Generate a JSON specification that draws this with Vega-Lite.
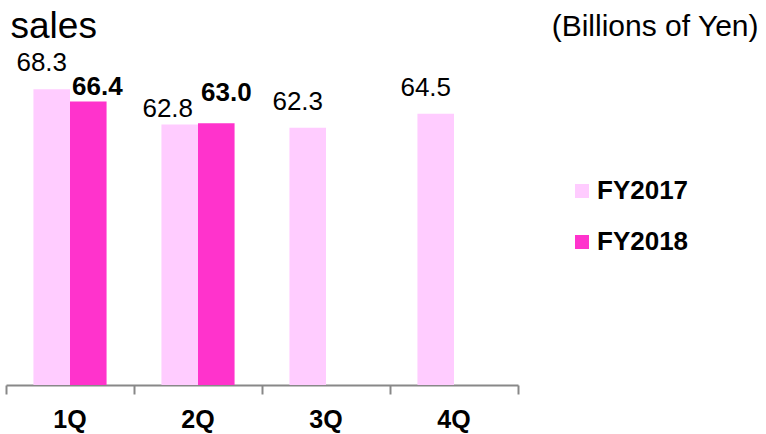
{
  "$schema": "https://vega.github.io/schema/vega-lite/v6.json",
  "width": 512,
  "height": 325,
  "autosize": {"type": "none"},
  "padding": {"left": 6, "top": 60, "right": 248, "bottom": 49},
  "background": "white",
  "config": {
    "view": {"stroke": null},
    "font": "Liberation Sans",
    "text": {"font": "Liberation Sans"}
  },
  "data": {
    "values": [
      {"quarter": "1Q", "series": "FY2017", "value": 68.3},
      {"quarter": "1Q", "series": "FY2018", "value": 66.4},
      {"quarter": "2Q", "series": "FY2017", "value": 62.8},
      {"quarter": "2Q", "series": "FY2018", "value": 63.0},
      {"quarter": "3Q", "series": "FY2017", "value": 62.3},
      {"quarter": "4Q", "series": "FY2017", "value": 64.5}
    ]
  },
  "encoding": {
    "x": {
      "field": "quarter",
      "type": "nominal",
      "sort": ["1Q", "2Q", "3Q", "4Q"],
      "scale": {"paddingInner": 0, "paddingOuter": 0},
      "axis": {
        "title": "sales",
        "titleFont": "Liberation Sans",
        "titleFontSize": 37,
        "titleFontWeight": "normal",
        "titleColor": "black",
        "titleAnchor": "start",
        "titleAlign": "left",
        "titleBaseline": "alphabetic",
        "titleX": 4,
        "titleY": -348,
        "labelAngle": 0,
        "labelFont": "Liberation Sans",
        "labelFontSize": 25,
        "labelFontWeight": "bold",
        "labelColor": "black",
        "labelBaseline": "alphabetic",
        "labelPadding": 33,
        "bandPosition": 1,
        "tickExtra": true,
        "tickSize": 9,
        "tickWidth": 2,
        "tickColor": "#888888",
        "domainColor": "#888888",
        "domainWidth": 2,
        "grid": false
      }
    },
    "xOffset": {
      "field": "series",
      "type": "nominal",
      "scale": {"paddingOuter": 0.75, "paddingInner": 0}
    },
    "y": {
      "field": "value",
      "type": "quantitative",
      "scale": {"domain": [22, 72.9], "zero": false, "nice": false},
      "axis": {
        "domain": false,
        "ticks": false,
        "labels": false,
        "grid": false,
        "title": "(Billions of Yen)",
        "titleFont": "Liberation Sans",
        "titleFontSize": 30,
        "titleFontWeight": "normal",
        "titleColor": "black",
        "titleAngle": 0,
        "titleAlign": "right",
        "titleBaseline": "alphabetic",
        "titleX": 752,
        "titleY": -25
      }
    }
  },
  "layer": [
    {
      "mark": {"type": "bar", "clip": true},
      "encoding": {
        "color": {
          "field": "series",
          "type": "nominal",
          "scale": {"domain": ["FY2017", "FY2018"], "range": ["#FFCCFF", "#FF33CC"]},
          "legend": {
            "title": null,
            "orient": "none",
            "legendX": 563,
            "legendY": 118,
            "padding": 0,
            "symbolType": "square",
            "symbolSize": 196,
            "symbolStrokeWidth": 0,
            "labelFont": "Liberation Sans",
            "labelFontSize": 26,
            "labelFontWeight": "bold",
            "labelColor": "black",
            "labelOffset": 2,
            "rowPadding": 25
          }
        }
      }
    },
    {
      "transform": [{"filter": "datum.series == 'FY2017' && datum.quarter != '2Q'"}],
      "mark": {"type": "text", "fontSize": 26, "baseline": "alphabetic", "dx": -10, "dy": -18, "color": "black"},
      "encoding": {"text": {"field": "value", "type": "quantitative", "format": ".1f"}}
    },
    {
      "transform": [{"filter": "datum.series == 'FY2017' && datum.quarter == '2Q'"}],
      "mark": {"type": "text", "fontSize": 26, "baseline": "alphabetic", "dx": -12, "dy": -7, "color": "black"},
      "encoding": {"text": {"field": "value", "type": "quantitative", "format": ".1f"}}
    },
    {
      "transform": [{"filter": "datum.series == 'FY2018' && datum.quarter == '1Q'"}],
      "mark": {"type": "text", "fontSize": 26, "fontWeight": "bold", "baseline": "alphabetic", "dx": 9, "dy": -7, "color": "black"},
      "encoding": {"text": {"field": "value", "type": "quantitative", "format": ".1f"}}
    },
    {
      "transform": [{"filter": "datum.series == 'FY2018' && datum.quarter == '2Q'"}],
      "mark": {"type": "text", "fontSize": 26, "fontWeight": "bold", "baseline": "alphabetic", "dx": 10, "dy": -22, "color": "black"},
      "encoding": {"text": {"field": "value", "type": "quantitative", "format": ".1f"}}
    }
  ]
}
